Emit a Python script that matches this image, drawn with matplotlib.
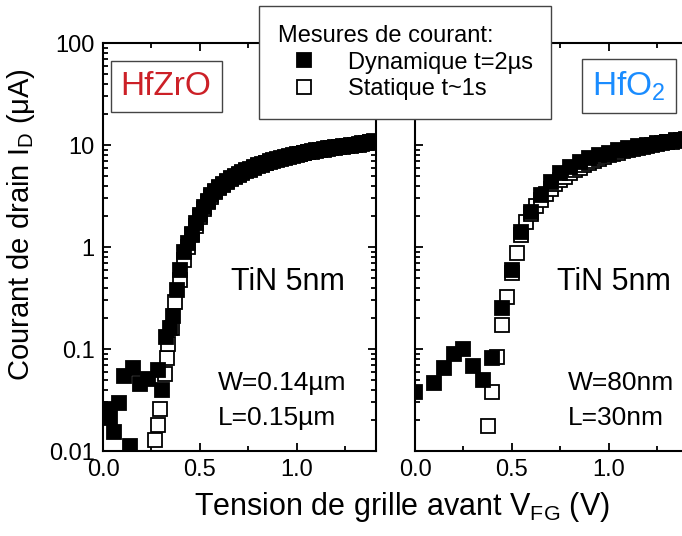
import matplotlib
matplotlib.use('Agg')
import matplotlib.pyplot as plt
from matplotlib.lines import Line2D
from matplotlib.ticker import LogLocator, MultipleLocator, NullFormatter

plt.rcParams['font.family'] = ['Liberation Sans', 'DejaVu Sans']
plt.rcParams['mathtext.fontset'] = 'custom'
plt.rcParams['mathtext.rm'] = 'Liberation Sans'

# HfZrO panel - dynamic (filled) and static (open) measurements
hfzro_dyn_v = [0.012, 0.034, 0.057, 0.081, 0.108, 0.139, 0.154, 0.189, 0.231, 0.283,
               0.303, 0.327, 0.345, 0.362, 0.38, 0.40, 0.42, 0.44, 0.46, 0.48, 0.50,
               0.52, 0.54, 0.56, 0.58, 0.60, 0.62, 0.64, 0.66, 0.68, 0.70, 0.72, 0.74,
               0.76, 0.78, 0.80, 0.82, 0.84, 0.86, 0.88, 0.90, 0.92, 0.94, 0.96, 0.98,
               1.00, 1.02, 1.04, 1.06, 1.08, 1.10, 1.12, 1.14, 1.16, 1.18, 1.20, 1.22,
               1.24, 1.26, 1.28, 1.30, 1.32, 1.34, 1.36, 1.38, 1.40]
hfzro_dyn_i = [0.026, 0.021, 0.0152, 0.0298, 0.054, 0.0112, 0.065, 0.045, 0.051, 0.062,
               0.040, 0.13, 0.16, 0.21, 0.38, 0.59, 0.89, 1.1, 1.35, 1.7, 2.05,
               2.45, 2.85, 3.2, 3.55, 3.85, 4.15, 4.45, 4.7, 4.95, 5.2, 5.4, 5.65,
               5.85, 6.05, 6.3, 6.5, 6.7, 6.9, 7.1, 7.3, 7.45, 7.6, 7.8, 7.95,
               8.1, 8.25, 8.4, 8.55, 8.7, 8.85, 8.95, 9.1, 9.25, 9.35, 9.5, 9.6,
               9.75, 9.85, 9.95, 10.1, 10.2, 10.35, 10.5, 10.7, 10.9]
hfzro_sta_v = [0.271, 0.283, 0.295, 0.322, 0.331, 0.338, 0.355, 0.37, 0.40, 0.42,
               0.44, 0.46, 0.48, 0.50, 0.52, 0.54, 0.56, 0.58, 0.60, 0.62, 0.64,
               0.66, 0.68, 0.70, 0.72, 0.74, 0.76, 0.78, 0.80, 0.82, 0.84, 0.86,
               0.88, 0.90, 0.92, 0.94, 0.96, 0.98, 1.00, 1.02, 1.04, 1.06, 1.08,
               1.10, 1.12, 1.14, 1.16, 1.18, 1.20, 1.22, 1.24, 1.26, 1.28, 1.30,
               1.32, 1.34, 1.36, 1.38, 1.40]
hfzro_sta_i = [0.0129, 0.018, 0.026, 0.057, 0.081, 0.112, 0.16, 0.29, 0.48, 0.74,
               1.0, 1.3, 1.62, 1.95, 2.35, 2.75, 3.1, 3.45, 3.75, 4.05, 4.35,
               4.6, 4.85, 5.1, 5.3, 5.55, 5.75, 5.95, 6.2, 6.4, 6.6, 6.8,
               7.0, 7.2, 7.35, 7.5, 7.7, 7.85, 8.0, 8.15, 8.3, 8.45, 8.6,
               8.75, 8.85, 9.0, 9.15, 9.25, 9.4, 9.5, 9.65, 9.75, 9.85, 10.0,
               10.1, 10.25, 10.4, 10.6, 10.8]

# HfO2 panel
hfo2_dyn_v = [0.00, 0.10, 0.15, 0.20, 0.25, 0.30, 0.35, 0.40, 0.45, 0.50, 0.55, 0.60,
              0.65, 0.70, 0.75, 0.80, 0.85, 0.90, 0.95, 1.00, 1.05, 1.10, 1.15, 1.20,
              1.25, 1.30, 1.35, 1.40]
hfo2_dyn_i = [0.038, 0.046, 0.065, 0.089, 0.100, 0.068, 0.050, 0.082, 0.25, 0.60, 1.4, 2.2,
              3.2, 4.3, 5.3, 6.1, 6.8, 7.4, 7.9, 8.4, 8.9, 9.3, 9.7, 10.1,
              10.5, 10.8, 11.1, 11.4]
hfo2_sta_v = [0.375, 0.40, 0.425, 0.45, 0.475, 0.50, 0.525, 0.55, 0.575, 0.60, 0.625,
              0.65, 0.675, 0.70, 0.725, 0.75, 0.775, 0.80, 0.825, 0.85, 0.875, 0.90,
              0.925, 0.95, 0.975, 1.00, 1.025, 1.05, 1.075, 1.10, 1.125, 1.15, 1.175,
              1.20, 1.225, 1.25, 1.275, 1.30, 1.325, 1.35, 1.375, 1.40]
hfo2_sta_i = [0.0176, 0.038, 0.083, 0.17, 0.32, 0.56, 0.87, 1.3, 1.75, 2.1, 2.5,
              2.9, 3.3, 3.7, 4.1, 4.5, 4.9, 5.3, 5.7, 6.0, 6.4, 6.7,
              7.0, 7.3, 7.6, 7.9, 8.2, 8.4, 8.7, 8.9, 9.1, 9.4, 9.6,
              9.8, 10.0, 10.2, 10.4, 10.6, 10.8, 11.0, 11.1, 11.3]

yticks = [0.01, 0.1, 1, 10, 100]
ytick_labels = ['0.01', '0.1', '1', '10', '100']
xticks = [0.0, 0.5, 1.0]
xtick_labels = ['0.0', '0.5', '1.0']

W, H = 682, 536
fig = plt.figure(figsize=(W / 100, H / 100), dpi=100)
axL = fig.add_axes([103 / W, 85 / H, 273 / W, 408 / H])
axR = fig.add_axes([415 / W, 85 / H, 273 / W, 408 / H])

ms = 9.6
mew = 1.3
for ax, sv, si, dv, di in [(axL, hfzro_sta_v, hfzro_sta_i, hfzro_dyn_v, hfzro_dyn_i),
                           (axR, hfo2_sta_v, hfo2_sta_i, hfo2_dyn_v, hfo2_dyn_i)]:
    ax.plot(sv, si, 's', ms=ms, mfc='white', mec='black', mew=mew)
    ax.plot(dv, di, 's', ms=ms, mfc='black', mec='black', mew=mew)
    ax.set_yscale('log')
    ax.set_ylim(0.01, 100)
    ax.set_xlim(0, 1.41)
    ax.set_yticks(yticks, labels=ytick_labels)
    ax.yaxis.set_minor_locator(LogLocator(base=10, subs=range(2, 10)))
    ax.yaxis.set_minor_formatter(NullFormatter())
    ax.set_xticks(xticks, labels=xtick_labels)
    ax.xaxis.set_minor_locator(MultipleLocator(0.25))
    ax.tick_params(which='both', direction='in', top=True, right=True, width=1.3,
                   labelsize=17)
    ax.tick_params(which='major', length=6, pad=6)
    ax.tick_params(which='minor', length=3.5)
    for s in ax.spines.values():
        s.set_linewidth(1.5)

axR.tick_params(labelleft=False, right=False, which='both')
axR.spines['right'].set_visible(False)

axL.set_ylabel(r'Courant de drain I$_\mathregular{D}$ ($\mathregular{\mu}$A)', fontsize=21)
axL.yaxis.set_label_coords(-0.24, 0.554)
fig.text(0.589, 0.039, r'Tension de grille avant V$_\mathregular{FG}$ (V)',
         fontsize=22, ha='center', va='baseline')

# panel annotations
axL.text(0.065, 0.872, 'HfZrO', transform=axL.transAxes, fontsize=24, color='#cc2027',
         va='baseline', bbox=dict(boxstyle='square,pad=0.3', fc='white', ec='#444444', lw=1))
axR.text(0.65, 0.872, r'HfO$_\mathregular{2}$', transform=axR.transAxes, fontsize=24,
         color='#1a8cff', va='baseline',
         bbox=dict(boxstyle='square,pad=0.3', fc='white', ec='#444444', lw=1))

axL.text(0.676, 0.395, 'TiN 5nm', transform=axL.transAxes, fontsize=22, ha='center', va='baseline')
axL.text(0.421, 0.150, 'W=0.14µm', transform=axL.transAxes, fontsize=19, va='baseline')
axL.text(0.421, 0.064, 'L=0.15µm', transform=axL.transAxes, fontsize=19, va='baseline')
axR.text(0.52, 0.395, 'TiN 5nm', transform=axR.transAxes, fontsize=22, va='baseline')
axR.text(0.56, 0.150, 'W=80nm', transform=axR.transAxes, fontsize=19, va='baseline')
axR.text(0.56, 0.064, 'L=30nm', transform=axR.transAxes, fontsize=19, va='baseline')

handles = [Line2D([], [], marker='s', ls='none', ms=ms, mfc='black', mec='black', mew=mew),
           Line2D([], [], marker='s', ls='none', ms=ms, mfc='white', mec='black', mew=mew)]
leg = fig.legend(handles, ['Dynamique t=2µs', 'Statique t~1s'], title='Mesures de courant:',
                 loc='upper left', bbox_to_anchor=(259 / W, 1 - 6 / H), borderaxespad=0,
                 fontsize=17, title_fontsize=17, alignment='left', handlelength=2.2,
                 handletextpad=0.75, borderpad=0.8, labelspacing=0.2, fancybox=False,
                 framealpha=1, edgecolor='#444444')
leg.get_frame().set_linewidth(1)

fig.savefig('out.png', dpi=100)
